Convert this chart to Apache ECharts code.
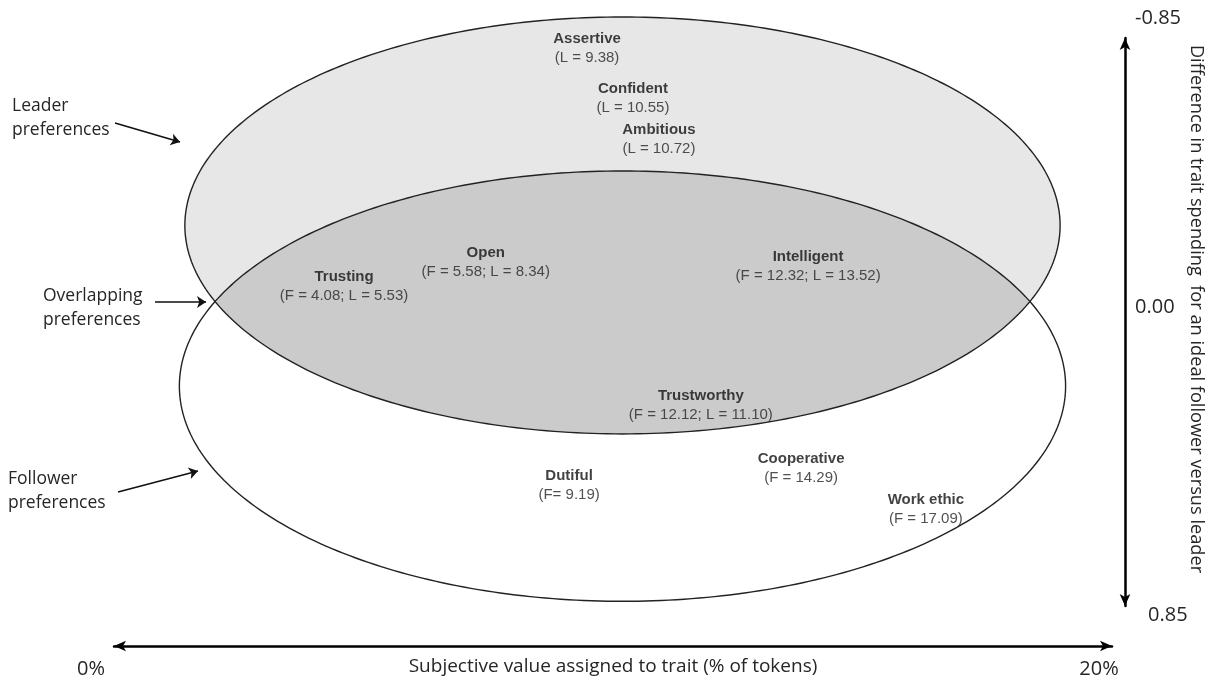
<!DOCTYPE html>
<html><head><meta charset="utf-8">
<script src="https://cdn.jsdelivr.net/npm/echarts@6/dist/echarts.min.js"></script>
<style>html,body{margin:0;padding:0;background:#fff}#main{width:1215px;height:681px}</style>
</head><body><div id="main"></div>
<script>
// ---- data ----
const traitNames = ['Assertive','Confident','Ambitious','Open','Trusting','Intelligent','Trustworthy','Dutiful','Cooperative','Work ethic'];
const traitDetails = ['(L = 9.38)','(L = 10.55)','(L = 10.72)','(F = 5.58; L = 8.34)','(F = 4.08; L = 5.53)','(F = 12.32; L = 13.52)','(F = 12.12; L = 11.10)','(F= 9.19)','(F = 14.29)','(F = 17.09)'];
const traitX = [9.48, 10.40, 10.92, 7.45, 4.61, 13.91, 11.76, 9.12, 13.77, 16.27];
const traitY = [-0.820, -0.670, -0.546, -0.178, -0.106, -0.166, 0.248, 0.489, 0.439, 0.561];

const ellipseNames = ['Leader preferences', 'Follower preferences'];
const ellipseCX = [10.19, 10.19];
const ellipseCY = [-0.289, 0.192];
const ellipseRX = [8.77, 8.88];
const ellipseRY = [0.624, 0.644];

const xTickValues = [0, 20];
const xTickLabels = ['0%', '20%'];
const yTickValues = [-0.85, 0, 0.85];
const yTickLabels = ['-0.85', '0.00', '0.85'];

const xAxisTitle = 'Subjective value assigned to trait (% of tokens)';
const yAxisTitle = 'Difference in trait spending  for an ideal follower versus leader';
const annotationTexts = ['Leader\npreferences', 'Overlapping\npreferences', 'Follower\npreferences'];

// ---- helpers ----
const SANS = '"Open Sans", "Noto Sans", sans-serif';
function ellipseGeom(api, i) {
  const c = api.coord([ellipseCX[i], ellipseCY[i]]);
  const px = api.coord([ellipseCX[i] + ellipseRX[i], ellipseCY[i]]);
  const py = api.coord([ellipseCX[i], ellipseCY[i] + ellipseRY[i]]);
  const a = Math.abs(px[0] - c[0]), b = Math.abs(py[1] - c[1]);
  const pts = [];
  const n = 360;
  for (let k = 0; k < n; k++) {
    const t = 2 * Math.PI * k / n;
    pts.push([c[0] + a * Math.cos(t), c[1] + b * Math.sin(t)]);
  }
  return { cx: c[0], cy: c[1], a: a, b: b, pts: pts };
}
function inside(p, e) {
  const dx = (p[0] - e.cx) / e.a, dy = (p[1] - e.cy) / e.b;
  return dx * dx + dy * dy <= 1.000001;
}
function renderEllipse(params, api) {
  const i = params.dataIndex;
  if (i === 0) {
    const L = ellipseGeom(api, 0);
    return { type: 'polygon', shape: { points: L.pts }, style: { fill: '#e7e7e7', stroke: null } };
  }
  const L = ellipseGeom(api, 0);
  const F = ellipseGeom(api, 1);
  let ov = [];
  L.pts.forEach(p => { if (inside(p, F)) ov.push(p); });
  F.pts.forEach(p => { if (inside(p, L)) ov.push(p); });
  let mx = 0, my = 0;
  ov.forEach(p => { mx += p[0]; my += p[1]; });
  mx /= ov.length; my /= ov.length;
  ov.sort((p, q) => Math.atan2(p[1] - my, p[0] - mx) - Math.atan2(q[1] - my, q[0] - mx));
  return {
    type: 'group',
    children: [
      { type: 'polygon', shape: { points: ov }, style: { fill: '#cbcbcb', stroke: null } },
      { type: 'polygon', shape: { points: F.pts }, style: { fill: null, stroke: '#222', lineWidth: 1.4 } },
      { type: 'polygon', shape: { points: L.pts }, style: { fill: null, stroke: '#222', lineWidth: 1.4 } }
    ]
  };
}

const chart = echarts.init(document.getElementById('main'), null, { renderer: 'canvas' });
const option = {
  animation: false,
  backgroundColor: '#ffffff',
  grid: { left: 114, right: 103, top: 38, bottom: 75, containLabel: false, outerBoundsMode: 'none' },
  xAxis: {
    type: 'value', min: 0, max: 20, interval: 20, position: 'bottom', offset: 40,
    axisLine: { show: true, onZero: false, symbol: ['arrow', 'arrow'], symbolSize: [8, 12], lineStyle: { color: '#000', width: 2.5 } },
    axisTick: { show: false }, splitLine: { show: false },
    axisLabel: {
      margin: 13, align: 'center',
      formatter: function (v) {
        const k = xTickValues.indexOf(v);
        if (k < 0) return '';
        return (k === 0 ? '{l|' : '{r|') + xTickLabels[k] + '}';
      },
      rich: {
        l: { fontFamily: SANS, fontSize: 20, color: '#262626', padding: [0, 46, 0, 0] },
        r: { fontFamily: SANS, fontSize: 20, color: '#262626', padding: [0, 26, 0, 0] }
      }
    },
    name: xAxisTitle, nameLocation: 'middle', nameGap: 11, nameMoveOverlap: false,
    nameTextStyle: { fontFamily: SANS, fontSize: 19, color: '#262626' }
  },
  yAxis: {
    type: 'value', inverse: true, min: -0.85, max: 0.85, interval: 0.85, position: 'right', offset: 13,
    axisLine: { show: true, onZero: false, symbol: ['arrow', 'arrow'], symbolSize: [8, 12], lineStyle: { color: '#000', width: 2.5 } },
    axisTick: { show: false }, splitLine: { show: false },
    axisLabel: {
      margin: 10,
      formatter: function (v) {
        let k = -1;
        yTickValues.forEach((t, j) => { if (Math.abs(t - v) < 1e-6) k = j; });
        if (k < 0) return '';
        return ['{a|', '{b|', '{c|'][k] + yTickLabels[k] + '}';
      },
      rich: {
        a: { fontFamily: SANS, fontSize: 20, color: '#262626', padding: [0, 0, 40, 0] },
        b: { fontFamily: SANS, fontSize: 20, color: '#262626', padding: [0, 0, 30, 0] },
        c: { fontFamily: SANS, fontSize: 20, color: '#262626', padding: [18, 0, 0, 13] }
      }
    },
    name: yAxisTitle, nameLocation: 'middle', nameRotate: -90, nameGap: 62, nameMoveOverlap: false,
    nameTextStyle: { fontFamily: SANS, fontSize: 18.2, color: '#262626', padding: [0, 26, 0, 0] }
  },
  series: [
    {
      type: 'custom', name: 'ellipses', silent: true, z: 1,
      data: ellipseCX.map((x, i) => [x, ellipseCY[i], ellipseRX[i], ellipseRY[i]]),
      encode: { x: 0, y: 1 },
      renderItem: renderEllipse,
      clip: false
    },
    {
      type: 'scatter', name: 'traits', z: 5, silent: true,
      symbol: 'circle', symbolSize: 1, itemStyle: { color: 'rgba(0,0,0,0)' },
      data: traitX.map((x, i) => [x, traitY[i]]),
      label: {
        show: true, position: 'inside', align: 'center', verticalAlign: 'middle',
        formatter: function (p) {
          return '{b|' + traitNames[p.dataIndex] + '}\n{n|' + traitDetails[p.dataIndex] + '}';
        },
        rich: {
          b: { fontFamily: '"Liberation Sans", Arial, sans-serif', fontWeight: 'bold', fontSize: 15, color: '#111111', lineHeight: 19, align: 'center' },
          n: { fontFamily: '"Liberation Sans", Arial, sans-serif', fontSize: 15, color: '#262626', lineHeight: 19, align: 'center' }
        }
      },
      markLine: {
        silent: true, animation: false,
        symbol: ['none', 'arrow'], symbolSize: 9,
        label: { show: false },
        lineStyle: { color: '#111', width: 1.6, type: 'solid' },
        data: [
          [{ x: 115, y: 123 }, { x: 180, y: 142 }],
          [{ x: 155, y: 302 }, { x: 206, y: 302 }],
          [{ x: 118, y: 492 }, { x: 198, y: 471 }]
        ]
      }
    }
  ],
  graphic: [
    { type: 'text', left: 12, top: 94, style: { text: annotationTexts[0], font: '17.5px ' + SANS, fill: '#262626', lineHeight: 24 } },
    { type: 'text', left: 43, top: 284, style: { text: annotationTexts[1], font: '17.5px ' + SANS, fill: '#262626', lineHeight: 24 } },
    { type: 'text', left: 8, top: 467, style: { text: annotationTexts[2], font: '17.5px ' + SANS, fill: '#262626', lineHeight: 24 } }
  ]
};
chart.setOption(option);
</script>
</body></html>
